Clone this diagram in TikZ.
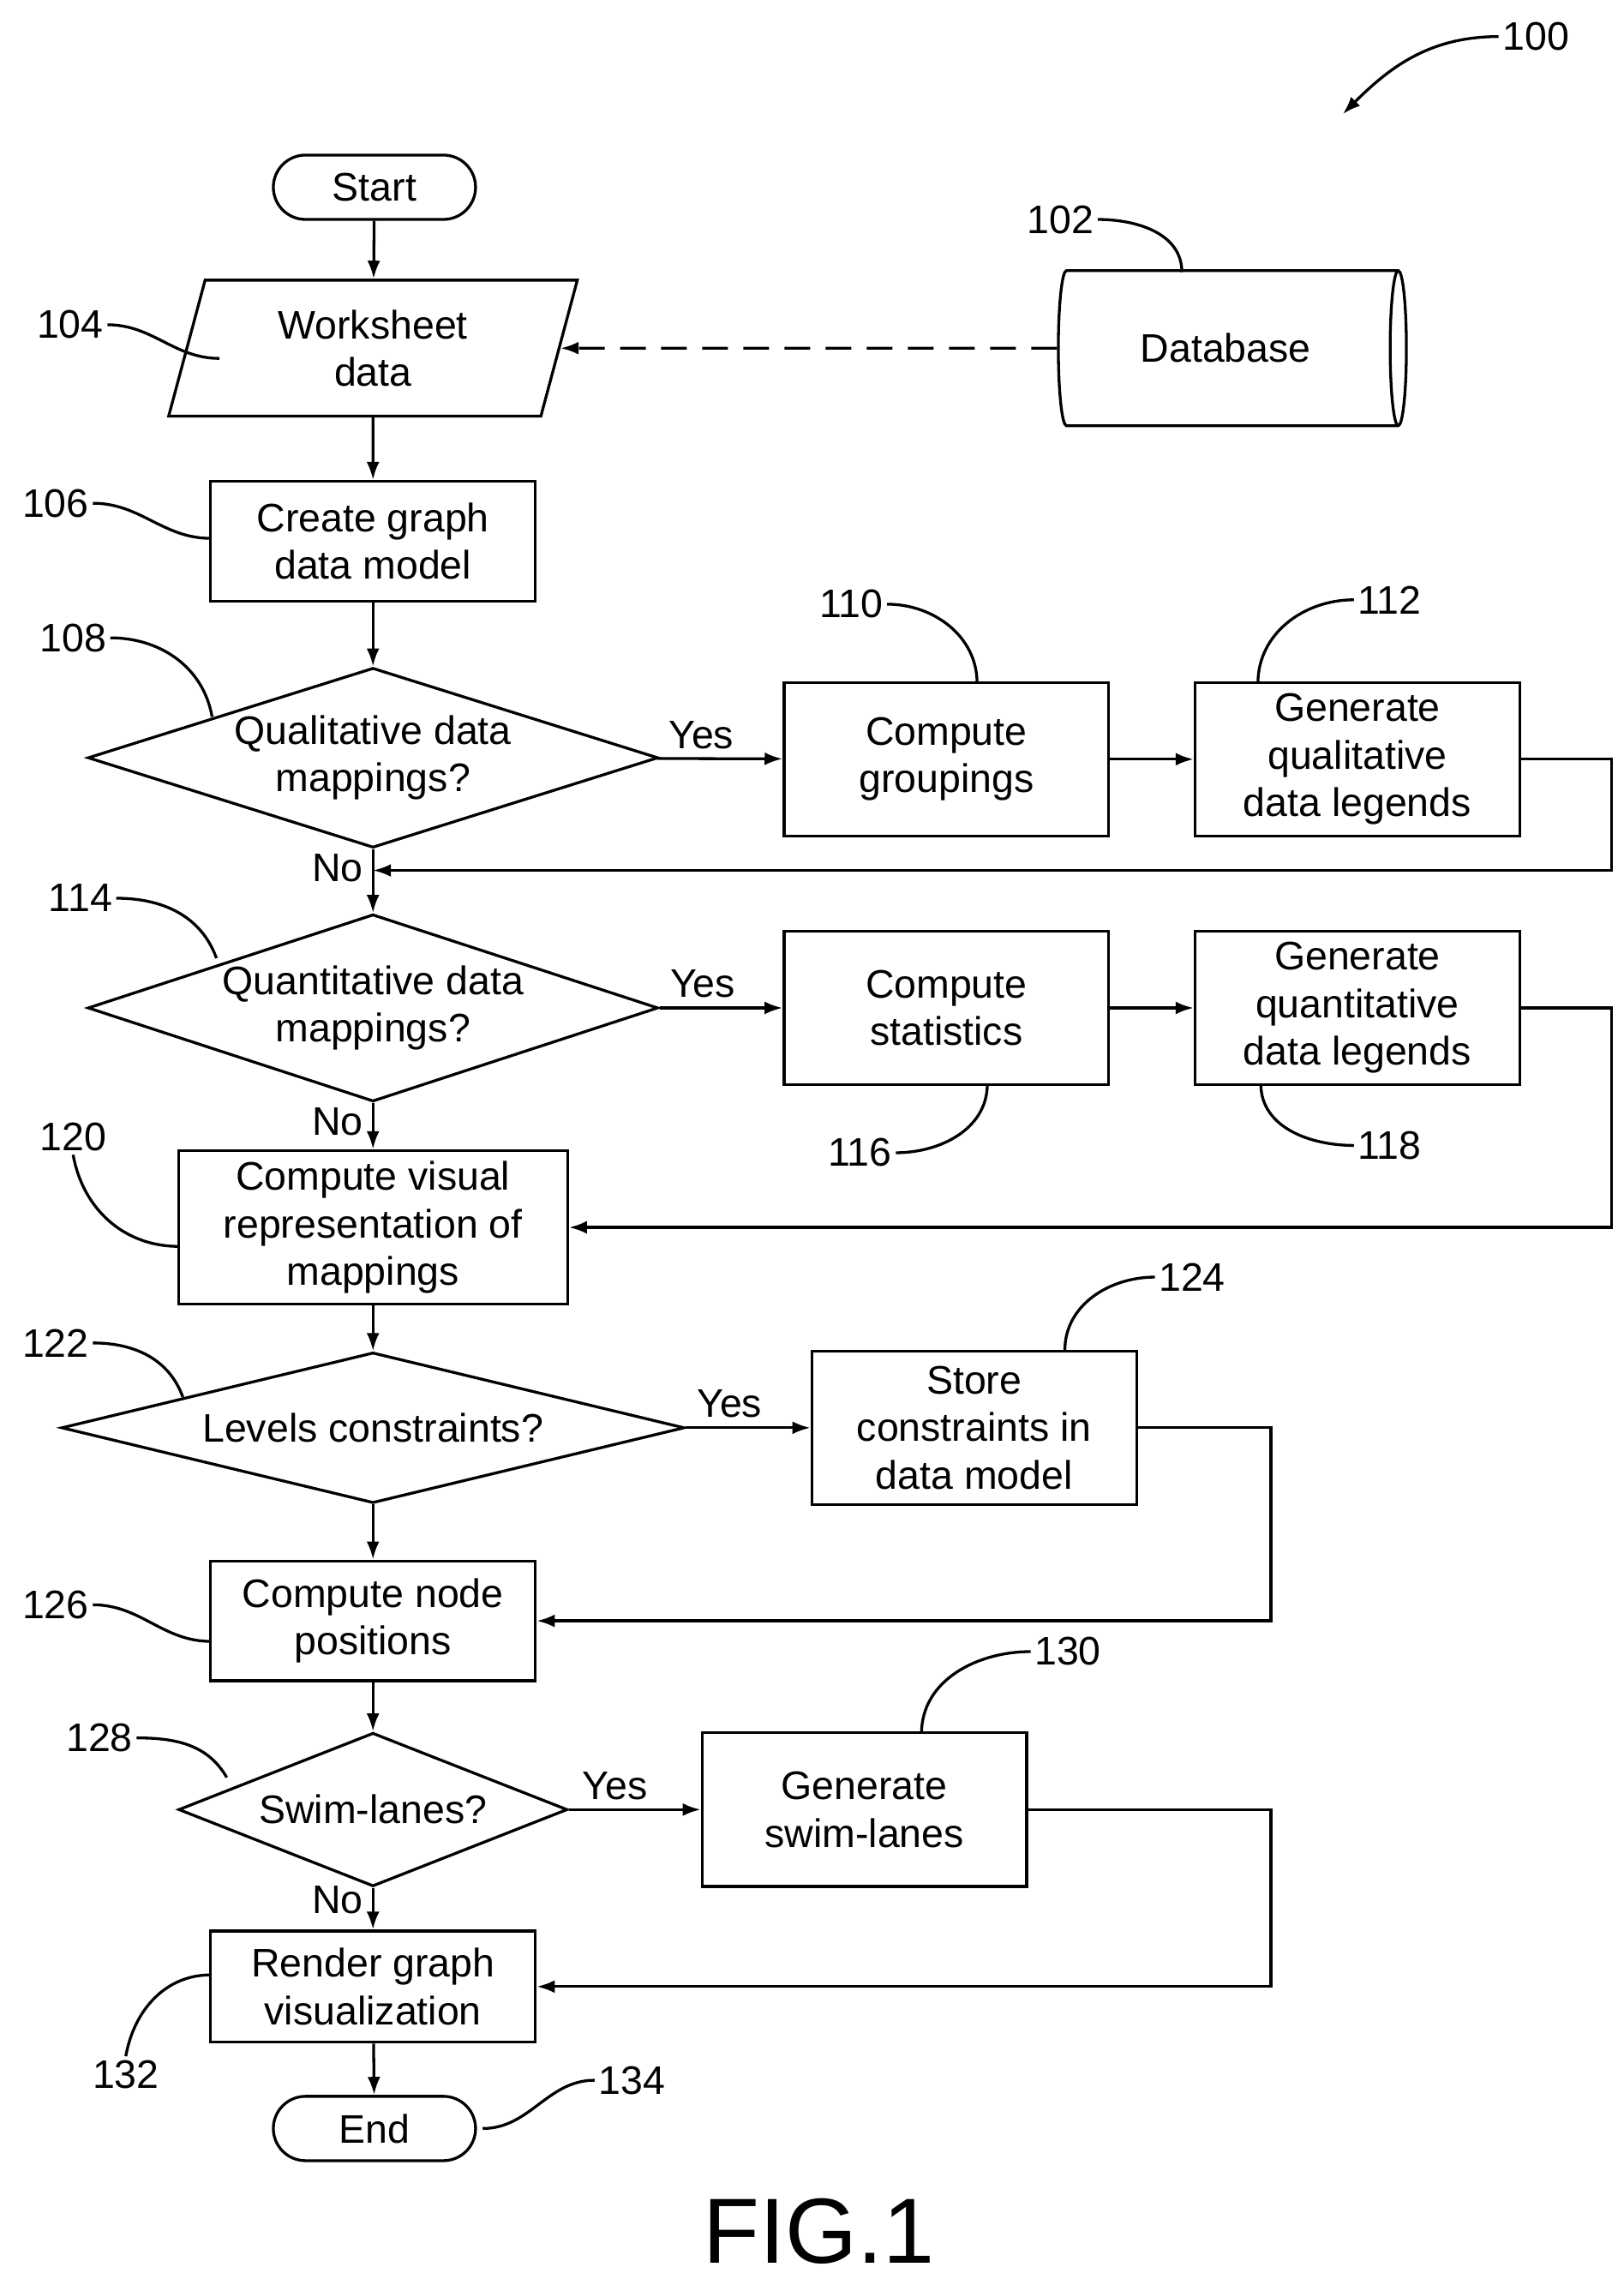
\documentclass[tikz,border=0pt]{standalone}
\usepackage{fontspec}
\setmainfont{Liberation Sans}
\usetikzlibrary{shapes.geometric, shapes.misc, arrows.meta, positioning}

\begin{document}
\begin{tikzpicture}[x=0.02cm, y=-0.02cm, >={Latex[length=7pt,width=5pt]},
    line width=1.1pt, font=\fontsize{15.5}{18.5}\selectfont,
    box/.style={rectangle, draw, align=center, minimum width=4.44cm, minimum height=1.64cm, inner sep=2pt},
    wbox/.style={box, minimum height=2.1cm},
    term/.style={rounded rectangle, draw, minimum width=3cm, minimum height=0.88cm},
    dec/.style={diamond, draw, align=center, inner sep=0pt, shape aspect=3.17, minimum width=7.8cm, minimum height=2.46cm},
    lbl/.style={inner sep=1pt},
    lead/.style={line width=1.1pt}]

    \useasboundingbox (0,0) rectangle (1110,1562);

    % main column
    \node (start) [term] at (256,128) {Start};
    \node (wsdata) [trapezium, draw, trapezium left angle=75, trapezium right angle=105, align=center, minimum width=5.2cm, minimum height=1.86cm, inner sep=0pt] at (255,238) {Worksheet\\data};
    \node (db) [cylinder, draw, shape aspect=0.35, minimum height=4.76cm, minimum width=2.12cm] at (838,238) {Database\hspace{1.2em}};
    \node (model) [box] at (255,370) {Create graph\\data model};
    \node (qual) [dec] at (255,518) {Qualitative data\\mappings?};
    \node (group) [wbox] at (647,519) {Compute\\groupings};
    \node (qleg) [wbox] at (928,519) {Generate\\qualitative\\data legends};
    \node (quant) [dec, shape aspect=3.05, minimum height=2.56cm] at (255,689) {Quantitative data\\mappings?};
    \node (stats) [wbox] at (647,689) {Compute\\statistics};
    \node (nleg) [wbox] at (928,689) {Generate\\quantitative\\data legends};
    \node (visual) [box, minimum width=5.32cm, minimum height=2.1cm] at (255,839) {Compute visual\\representation of\\mappings};
    \node (levels) [dec, shape aspect=4.1, minimum width=8.52cm, minimum height=2.06cm] at (255,976) {Levels constraints?};
    \node (store) [wbox] at (666,976) {Store\\constraints in\\data model};
    \node (pos) [box] at (255,1108) {Compute node\\positions};
    \node (swim) [dec, shape aspect=2.5, minimum width=5.32cm, minimum height=2.1cm] at (255,1237) {Swim-lanes?};
    \node (gswim) [wbox] at (591,1237) {Generate\\swim-lanes};
    \node (render) [box, minimum height=1.52cm] at (255,1358) {Render graph\\visualization};
    \node (stop) [term] at (256,1455) {End};
    \node (fig) at (560,1525) {\fontsize{36}{40}\selectfont FIG.1};

    % flow
    \draw[->] (start) -- (wsdata);
    \draw[->, dash pattern=on 10pt off 6pt] (db) -- (wsdata);
    \draw[->] (wsdata) -- (model);
    \draw[->] (model) -- (qual);
    \draw[->] (qual) -- node[above, pos=0.35] {Yes} (group);
    \draw[->] (group) -- (qleg);
    \draw[->] (qual) -- node[left, pos=0.3] {No} (quant);
    \draw[->] (qleg.east) -- ++(62,0) |- (255,595);
    \draw[->] (quant) -- node[above, pos=0.35] {Yes} (stats);
    \draw[->] (stats) -- (nleg);
    \draw[->] (quant) -- node[left, pos=0.4] {No} (visual);
    \draw[->] (nleg.east) -- ++(62,0) |- (visual.east);
    \draw[->] (visual) -- (levels);
    \draw[->] (levels) -- node[above, pos=0.35] {Yes} (store);
    \draw[->] (levels) -- (pos);
    \draw[->] (store.east) -- ++(91,0) |- (pos.east);
    \draw[->] (pos) -- (swim);
    \draw[->] (swim) -- node[above, pos=0.35] {Yes} (gswim);
    \draw[->] (swim) -- node[left, pos=0.3] {No} (render);
    \draw[->] (gswim.east) -- ++(166,0) |- (render.east);
    \draw[->] (render) -- (stop);

    % reference numerals
    \node (n100) [lbl] at (1050,25) {100};
    \node (n102) [lbl] at (725,150) {102};
    \node (n104) [lbl] at (48,222) {104};
    \node (n106) [lbl] at (38,344) {106};
    \node (n108) [lbl] at (50,436) {108};
    \node (n110) [lbl] at (582,413) {110};
    \node (n112) [lbl] at (950,410) {112};
    \node (n114) [lbl] at (55,614) {114};
    \node (n116) [lbl] at (588,788) {116};
    \node (n118) [lbl] at (950,783) {118};
    \node (n120) [lbl] at (50,777) {120};
    \node (n122) [lbl] at (38,918) {122};
    \node (n124) [lbl] at (815,873) {124};
    \node (n126) [lbl] at (38,1097) {126};
    \node (n128) [lbl] at (68,1188) {128};
    \node (n130) [lbl] at (730,1129) {130};
    \node (n132) [lbl] at (86,1418) {132};
    \node (n134) [lbl] at (432,1422) {134};

    \draw[->, lead] (n100.west) to[out=180, in=45] (918,78);
    \draw[lead] (n102.east) to[out=0, in=90] (808,186);
    \draw[lead] (n104.east) to[out=0, in=180] (150,245);
    \draw[lead] (n106.east) to[out=0, in=180] (144,368);
    \draw[lead] (n108.east) to[out=0, in=100] (145,490);
    \draw[lead] (n110.east) to[out=0, in=90] (668,467);
    \draw[lead] (n112.west) to[out=180, in=90] (860,467);
    \draw[lead] (n114.east) to[out=0, in=110] (148,655);
    \draw[lead] (n116.east) to[out=0, in=-90] (675,741);
    \draw[lead] (n118.west) to[out=180, in=-90] (862,741);
    \draw[lead] (n120.south) to[out=-80, in=180] (122,852);
    \draw[lead] (n122.east) to[out=0, in=110] (125,955);
    \draw[lead] (n124.west) to[out=180, in=90] (728,923);
    \draw[lead] (n126.east) to[out=0, in=180] (144,1122);
    \draw[lead] (n128.east) to[out=0, in=120] (155,1215);
    \draw[lead] (n130.west) to[out=180, in=90] (630,1185);
    \draw[lead] (n132.north) to[out=80, in=180] (144,1350);
    \draw[lead] (n134.west) to[out=180, in=0] (330,1455);
\end{tikzpicture}
\end{document}
